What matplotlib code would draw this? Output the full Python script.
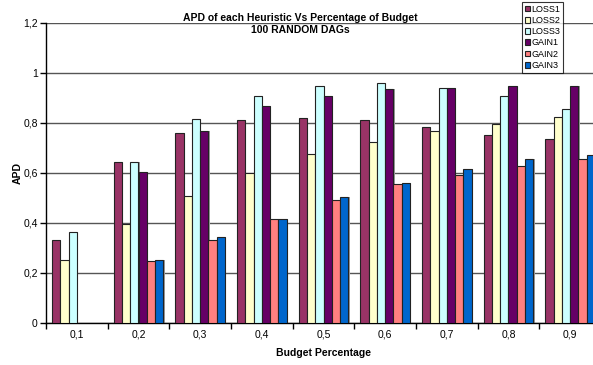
import numpy as np
import matplotlib.pyplot as plt
from matplotlib.ticker import FixedLocator

plt.rcParams['font.family'] = ['Liberation Sans', 'DejaVu Sans']

budget = ['0,1', '0,2', '0,3', '0,4', '0,5', '0,6', '0,7', '0,8', '0,9']
series = ['LOSS1', 'LOSS2', 'LOSS3', 'GAIN1', 'GAIN2', 'GAIN3']
loss1 = [0.331, 0.644, 0.761, 0.813, 0.819, 0.813, 0.785, 0.751, 0.735]
loss2 = [0.253, 0.396, 0.509, 0.600, 0.677, 0.723, 0.768, 0.797, 0.824]
loss3 = [0.365, 0.645, 0.816, 0.909, 0.948, 0.959, 0.940, 0.908, 0.857]
gain1 = [0.0, 0.603, 0.768, 0.867, 0.908, 0.936, 0.940, 0.947, 0.947]
gain2 = [0.0, 0.247, 0.333, 0.415, 0.491, 0.555, 0.592, 0.627, 0.656]
gain3 = [0.0, 0.252, 0.345, 0.415, 0.504, 0.561, 0.615, 0.655, 0.672]
colors = ['#993366', '#FFFFCC', '#CCFFFF', '#660066', '#FF8080', '#0066CC']

fig = plt.figure(figsize=(5.93, 3.65), dpi=100)
ax = fig.add_axes([46 / 593, 42 / 365, 555 / 593, 300 / 365])

x = np.arange(len(budget))
w = 0.135
for i, (name, vals) in enumerate(zip(series, [loss1, loss2, loss3, gain1, gain2, gain3])):
    vals = np.array(vals)
    pos = x + (i - 2.5) * w
    # zero-valued bars are left out so no outline sits on the baseline
    shown = vals > 0
    # thin grey drop shadow on the right of each bar
    ax.bar(pos[shown] + 0.018, vals[shown], w, color='#999999', linewidth=0, zorder=2)
    ax.bar(pos[shown], vals[shown], w, color=colors[i], edgecolor='#222222',
           linewidth=0.8, label=name, zorder=3)

ax.set_xlim(-0.5, len(budget) - 0.5)
ax.set_ylim(0, 1.2)
ax.set_yticks(np.arange(0, 1.21, 0.2))
ax.set_yticklabels(['0', '0,2', '0,4', '0,6', '0,8', '1', '1,2'])
ax.yaxis.grid(True, color='#555555', linewidth=1)
ax.set_axisbelow(True)

ax.xaxis.set_major_locator(FixedLocator(np.arange(-0.5, len(budget), 1.0)))
ax.xaxis.set_minor_locator(FixedLocator(x))
ax.set_xticklabels([])
ax.set_xticklabels(budget, minor=True)
ax.tick_params(axis='x', which='major', length=4, width=1, direction='out')
ax.tick_params(axis='x', which='minor', length=0, pad=5, labelsize=7.5)
ax.tick_params(axis='y', length=4, width=1, direction='out', labelsize=7.5, pad=2)

for s in ['top', 'right']:
    ax.spines[s].set_visible(False)
for s in ['left', 'bottom']:
    ax.spines[s].set_color('black')
    ax.spines[s].set_linewidth(1)

ax.set_xlabel('Budget Percentage', fontsize=7.5, fontweight='bold', labelpad=6)
ax.set_ylabel('APD', fontsize=7.5, fontweight='bold', labelpad=0)
fig.text(300 / 593, 1 - 24 / 365, 'APD of each Heuristic Vs Percentage of Budget\n100 RANDOM DAGs',
         ha='center', va='center', fontsize=7.5, fontweight='bold', linespacing=1.15)

leg = fig.legend(loc='upper left', bbox_to_anchor=(522 / 593, 1 - 2 / 365), fontsize=6.5,
                 frameon=True, fancybox=False, handlelength=0.6, handleheight=0.6,
                 handletextpad=0.1, borderpad=0.3, labelspacing=0.25, borderaxespad=0)
leg.get_frame().set_edgecolor('black')
leg.get_frame().set_linewidth(0.8)

plt.savefig('out.png', dpi=100)
